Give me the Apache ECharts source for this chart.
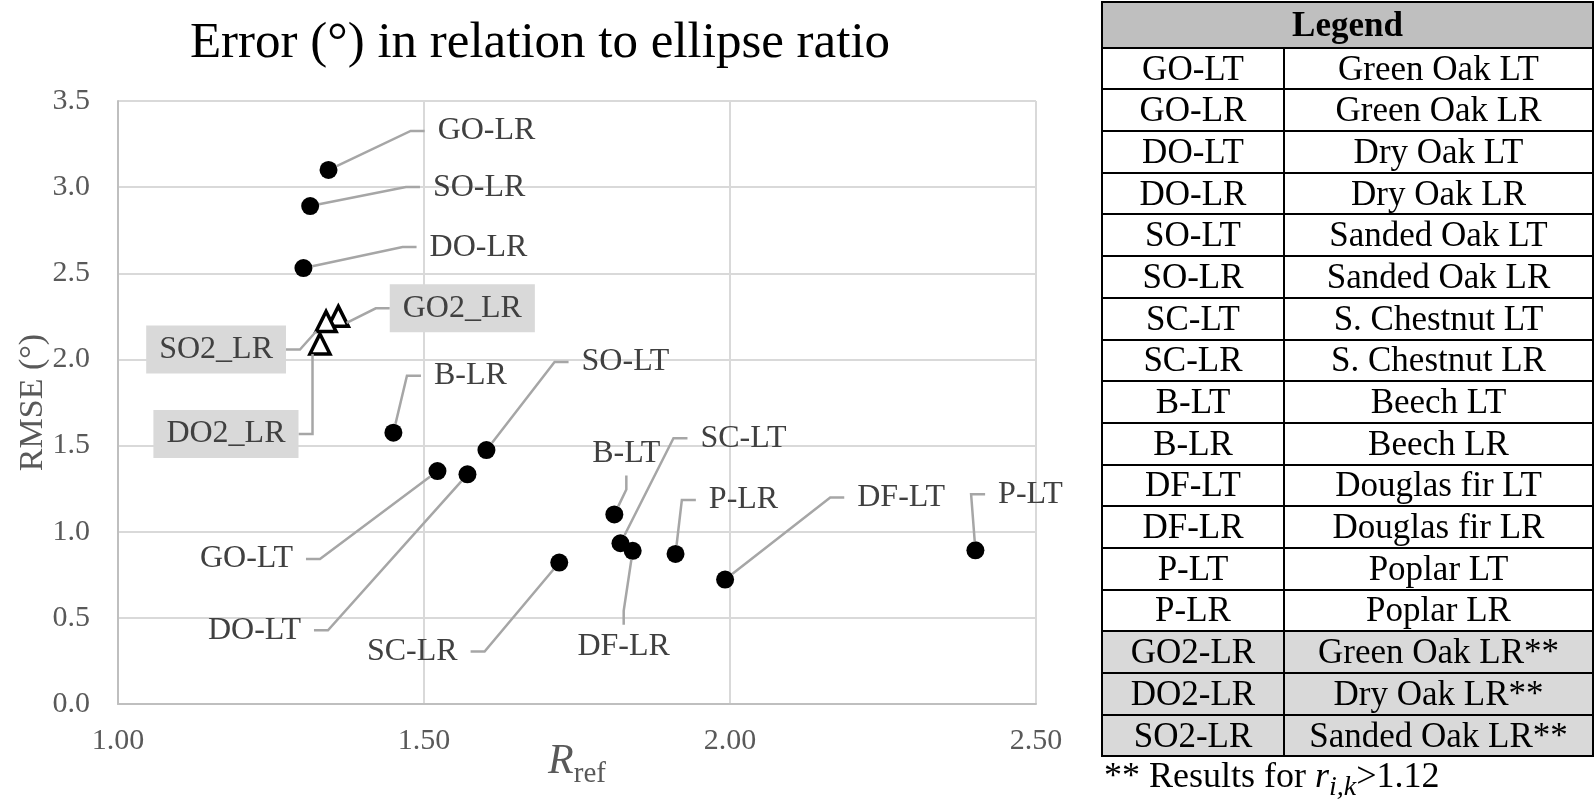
<!DOCTYPE html>
<html>
<head>
<meta charset="utf-8">
<script src="https://cdn.jsdelivr.net/npm/echarts@6/dist/echarts.min.js"></script>
<style>
html,body{margin:0;padding:0;background:#fff;}
#chart{position:absolute;left:0;top:0;width:1594px;height:803px;}
#legendTable{position:absolute;left:1101px;top:1px;width:491px;border-collapse:collapse;font-family:'Liberation Serif',serif;font-size:35px;color:#000;table-layout:fixed;}
#legendTable td,#legendTable th{border:2px solid #000;height:39.7px;padding:0;text-align:center;line-height:36px;white-space:nowrap;}
#legendTable th{background:#bfbfbf;font-weight:bold;height:43.7px;}
#legendTable tr.star td{background:#d9d9d9;}
#foot{position:absolute;left:1104px;top:754px;font-family:'Liberation Serif',serif;font-size:36px;color:#000;white-space:nowrap;}
#foot sub{font-size:28px;}
</style>
</head>
<body>
<div id="chart"></div>
<table id="legendTable"></table>
<div id="foot">** Results for <i>r</i><sub><i>i,k</i></sub>&gt;1.12</div>
<script>
// ---- data ----
const pointNames = ['GO-LR','SO-LR','DO-LR','B-LR','SO-LT','GO-LT','DO-LT','SC-LR','B-LT','SC-LT','DF-LR','P-LR','DF-LT','P-LT'];
const rRef      = [1.344, 1.314, 1.303, 1.450, 1.602, 1.522, 1.571, 1.721, 1.811, 1.821, 1.841, 1.911, 1.992, 2.401];
const rmse      = [3.10,  2.89,  2.53,  1.575, 1.474, 1.352, 1.333, 0.821, 1.10,  0.933, 0.889, 0.871, 0.722, 0.892];

const triNames = ['GO2_LR','SO2_LR','DO2_LR'];
const triRRef  = [1.360, 1.340, 1.330];
const triRmse  = [2.25,  2.22,  2.09];

const xTicks = [1.00, 1.50, 2.00, 2.50];
const yTicks = [0.0, 0.5, 1.0, 1.5, 2.0, 2.5, 3.0, 3.5];

const legendCodes = ['GO-LT','GO-LR','DO-LT','DO-LR','SO-LT','SO-LR','SC-LT','SC-LR','B-LT','B-LR','DF-LT','DF-LR','P-LT','P-LR','GO2-LR','DO2-LR','SO2-LR'];
const legendDesc  = ['Green Oak LT','Green Oak LR','Dry Oak LT','Dry Oak LR','Sanded Oak LT','Sanded Oak LR','S. Chestnut LT','S. Chestnut LR','Beech LT','Beech LR','Douglas fir LT','Douglas fir LR','Poplar LT','Poplar LR','Green Oak LR**','Dry Oak LR**','Sanded Oak LR**'];
const legendStarred = [false,false,false,false,false,false,false,false,false,false,false,false,false,false,true,true,true];

// ---- layout (label offsets from their points, px) ----
const pointLabelOffsets = [[158,-39],[169,-19],[175,-21],[77,-57],[139,-88],[-191,88],[-213,156],[-147,89],[12,-61],[123,-105],[-9,96],[68,-54],[176,-82],[55,-56]];
const triLabelOffsets = [[124,-8],[-110,28],[-94,90]];

// ---- legend table ----
(function(){
  const t = document.getElementById('legendTable');
  let html = '<colgroup><col style="width:182px"><col style="width:309px"></colgroup>';
  html += '<tr><th colspan="2">Legend</th></tr>';
  legendCodes.forEach((c,i)=>{
    html += '<tr' + (legendStarred[i] ? ' class="star"' : '') + '><td>' + c + '</td><td>' + legendDesc[i] + '</td></tr>';
  });
  t.innerHTML = html;
})();

const FONT = 'Liberation Serif';
const chart = echarts.init(document.getElementById('chart'), null, {renderer:'canvas'});

const labelCommon = {
  show: true,
  position: 'inside',
  fontFamily: FONT,
  fontSize: 32,
  color: '#404040',
  padding: [6, 13],
  backgroundColor: 'rgba(255,255,255,0)'
};
const labelLineCommon = {
  show: true,
  showAbove: true,
  length2: 14,
  lineStyle: {color: '#a6a6a6', width: 2.5}
};

chart.setOption({
  animation: false,
  title: {
    text: 'Error (°) in relation to ellipse ratio',
    left: 535,
    top: 13,
    textAlign: 'center',
    textStyle: {fontFamily: FONT, fontSize: 51, fontWeight: 'normal', color: '#000'}
  },
  grid: {left: 118, right: 558, top: 101, bottom: 99, containLabel: false, outerBoundsMode: 'none'},
  xAxis: {
    type: 'value',
    min: xTicks[0], max: xTicks[xTicks.length-1], interval: 0.5,
    name: '{r|R}{s|ref}',
    nameLocation: 'middle',
    nameGap: 30,
    nameMoveOverlap: false,
    nameTextStyle: {
      rich: {
        r: {fontFamily: FONT, fontStyle: 'italic', fontSize: 42, color: '#595959'},
        s: {fontFamily: FONT, fontSize: 29, color: '#595959', padding: [26, 0, 0, 0]}
      }
    },
    axisLine: {show: true, lineStyle: {color: '#bfbfbf', width: 2}},
    axisTick: {show: false},
    axisLabel: {fontFamily: FONT, fontSize: 30, color: '#595959', margin: 22,
      formatter: v => v.toFixed(2)},
    splitLine: {show: true, lineStyle: {color: '#d9d9d9', width: 2}}
  },
  yAxis: {
    type: 'value',
    min: yTicks[0], max: yTicks[yTicks.length-1], interval: 0.5,
    name: 'RMSE (°)',
    nameLocation: 'middle',
    nameRotate: 90,
    nameGap: 68,
    nameMoveOverlap: false,
    nameTextStyle: {fontFamily: FONT, fontSize: 34, color: '#595959'},
    axisLine: {show: true, lineStyle: {color: '#bfbfbf', width: 2}},
    axisTick: {show: false},
    axisLabel: {fontFamily: FONT, fontSize: 30, color: '#595959', margin: 28,
      formatter: v => v.toFixed(1)},
    splitLine: {show: true, lineStyle: {color: '#d9d9d9', width: 2}}
  },
  series: [
    {
      type: 'scatter',
      name: 'points',
      symbol: 'circle',
      symbolSize: 18,
      itemStyle: {color: '#000', opacity: 1},
      data: pointNames.map((n,i) => ({name: n, value: [rRef[i], rmse[i]]})),
      label: Object.assign({}, labelCommon, {formatter: p => p.name}),
      labelLine: labelLineCommon,
      labelLayout: p => ({dx: pointLabelOffsets[p.dataIndex][0], dy: pointLabelOffsets[p.dataIndex][1], hideOverlap: false}),
      z: 3
    },
    {
      type: 'scatter',
      name: 'tri',
      symbol: 'triangle',
      symbolSize: 20,
      itemStyle: {color: '#fff', borderColor: '#000', borderWidth: 3.5, opacity: 1},
      data: triNames.map((n,i) => ({name: n, value: [triRRef[i], triRmse[i]]})),
      label: Object.assign({}, labelCommon, {formatter: p => p.name, backgroundColor: '#d9d9d9', padding: [8, 13]}),
      labelLine: labelLineCommon,
      labelLayout: p => ({dx: triLabelOffsets[p.dataIndex][0], dy: triLabelOffsets[p.dataIndex][1], hideOverlap: false}),
      z: 4
    }
  ]
});
</script>
</body>
</html>
